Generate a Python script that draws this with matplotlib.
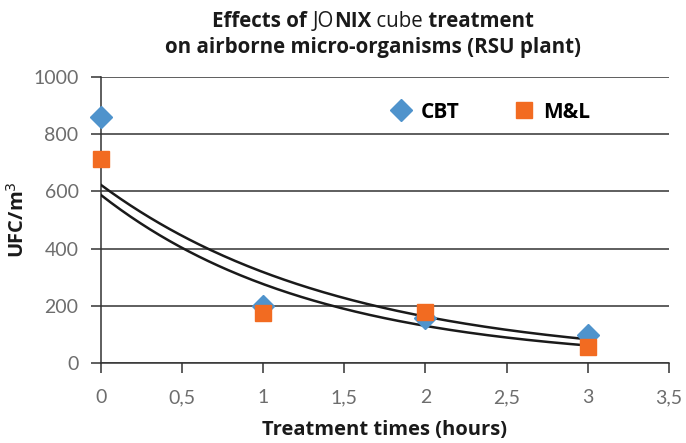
import numpy as np
import matplotlib.pyplot as plt

# dati
hours = [0, 1, 2, 3]
cbt = [860, 198, 158, 98]
ml = [715, 175, 178, 57]
series_names = ["CBT", "M&L"]
x_ticks = [0, 0.5, 1, 1.5, 2, 2.5, 3, 3.5]
x_tick_labels = ["0", "0,5", "1", "1,5", "2", "2,5", "3", "3,5"]
y_ticks = [0, 200, 400, 600, 800, 1000]

BLUE = "#4f93cc"
ORANGE = "#f26b21"
FONT = "Open Sans"
TICK_FONT = "Lato"


def exp_fit(x, y):
    # linea di tendenza esponenziale (come Excel)
    b, ln_a = np.polyfit(x, np.log(y), 1)
    xs = np.linspace(min(x), max(x), 200)
    return xs, np.exp(ln_a) * np.exp(b * xs)


def draw_title(fig, lines, y_top, size=14.8):
    # titolo con pesi misti, pezzo per pezzo
    fig.canvas.draw()
    r = fig.canvas.get_renderer()
    y = y_top
    for parts in lines:
        texts = [fig.text(0, y, s, fontsize=size, fontweight=w, family=FONT,
                          color="#1a1a1a", va="top") for s, w in parts]
        widths = [t.get_window_extent(r).width for t in texts]
        total = sum(widths)
        x0 = 0.5 * fig.bbox.width - total / 2 + 30
        for t, w in zip(texts, widths):
            t.set_x(x0 / fig.bbox.width)
            x0 += w
        y -= 0.058


fig = plt.figure(figsize=(6.86, 4.43), dpi=100)
ax = fig.add_axes([0.147, 0.181, 0.828, 0.645])

for x, y in [(hours, cbt), (hours, ml)]:
    xs, ys = exp_fit(x, y)
    ax.plot(xs, ys, color="#1a1a1a", lw=1.8, zorder=3)

ax.plot(hours, cbt, "D", color=BLUE, ms=11, ls="none", label=series_names[0],
        zorder=4, clip_on=False)
ax.plot(hours, ml, "s", color=ORANGE, ms=12, ls="none", label=series_names[1],
        zorder=5, clip_on=False)

ax.set_xlim(0, 3.5)
ax.set_ylim(0, 1000)
ax.set_xticks(x_ticks)
ax.set_xticklabels(x_tick_labels)
ax.set_yticks(y_ticks)
ax.grid(axis="y", color="#333333", lw=1.1)
ax.set_axisbelow(True)
for s in ["top", "right"]:
    ax.spines[s].set_visible(False)
for s in ["left", "bottom"]:
    ax.spines[s].set_color("#333333")
    ax.spines[s].set_linewidth(1.1)
ax.tick_params(length=7, width=1.1, color="#333333", labelsize=14,
               labelcolor="#6d6d6d", pad=9)
ax.tick_params(axis="x", pad=12)
for lab in ax.get_xticklabels() + ax.get_yticklabels():
    lab.set_family(TICK_FONT)

ax.set_xlabel("Treatment times (hours)", fontsize=14.5, fontweight="bold",
              family=FONT, color="#1a1a1a", labelpad=10)
ax.set_ylabel("UFC/m$^3$", fontsize=14.5, fontweight="bold", family=FONT,
              color="#1a1a1a", labelpad=3)

ax.legend(loc="upper right", bbox_to_anchor=(0.895, 0.98), ncol=2,
          frameon=False, handlelength=1.0, handletextpad=0.45,
          columnspacing=2.6,
          prop={"family": FONT, "weight": "bold", "size": 15})

draw_title(fig, [
    [("Effects of ", "bold"), ("JO", "normal"), ("NIX", "bold"),
     (" cube", "normal"), (" treatment", "bold")],
    [("on airborne micro-organisms (RSU plant)", "bold")],
], 0.975)

fig.savefig("out.png", dpi=100)
